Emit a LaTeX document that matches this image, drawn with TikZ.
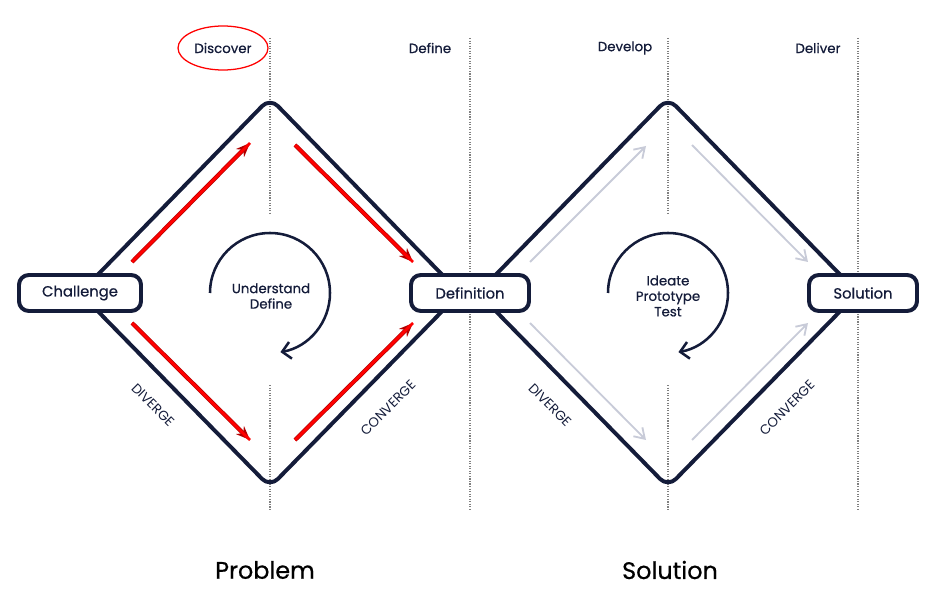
\documentclass[tikz,border=0pt]{standalone}
\usepackage{fontspec}
\setmainfont{Poppins}[BoldFont=Poppins,BoldFeatures={FakeBold=0.6}]
\usetikzlibrary{arrows.meta,positioning}
\definecolor{navy}{HTML}{141C3A}
\definecolor{lightarr}{HTML}{C8CBD8}
\tikzset{
  edge/.style={navy,line width=2.8pt,rounded corners=8pt,line join=round},
  stage/.style={draw=navy,line width=2.8pt,rounded corners=7pt,fill=white,minimum height=0.9cm,font=\fontsize{10.5}{12}\selectfont\bfseries\color{navy}},
  phase/.style={font=\fontsize{9.5}{11}\selectfont\bfseries\color{navy}},
  divider/.style={gray,densely dotted,line width=0.8pt},
  redarr/.style={-{Stealth[length=10pt,width=8pt]},red,line width=3pt,draw=red!70!black,
    postaction={draw=red,line width=2pt,-{}}},
  greyarr/.style={-{Straight Barb[length=7pt,width=9pt]},lightarr,line width=1.3pt},
  cycle/.style={-{Straight Barb[length=6pt,width=12pt]},navy,line width=1.8pt},
  side/.style={font=\fontsize{9.5}{10}\selectfont\color{navy}},
}
\begin{document}
\begin{tikzpicture}[x=0.025cm,y=-0.025cm]
\useasboundingbox (0,0) rectangle (936,610);
% dividers
\draw[divider] (270,38) -- (270,215);
\draw[divider] (270,385) -- (270,510);
\draw[divider] (470,38) -- (470,510);
\draw[divider] (668,38) -- (668,215);
\draw[divider] (668,385) -- (668,510);
\draw[divider] (858,38) -- (858,510);
% phases
\node[phase] (discover) at (223,48) {Discover};
\node[phase] (define) at (430,48) {Define};
\node[phase] (develop) at (625,48) {Develop};
\node[phase] (deliver) at (818,48) {Deliver};
\draw[red,line width=0.9pt] (discover) ellipse [x radius=45,y radius=22];
% diamonds
\draw[edge] (80,293) -- (270,98) -- (460,293) -- (270,487) -- cycle;
\draw[edge] (478,293) -- (668,98) -- (858,293) -- (668,487) -- cycle;
% stages
\node[stage,minimum width=3.05cm] (challenge) at (80,293) {Challenge};
\node[stage,minimum width=2.95cm] (definition) at (470,293) {Definition};
\node[stage,minimum width=2.7cm] (solution) at (863,293) {Solution};
% arrows, first diamond
\draw[redarr] (132,262) -- (250,143);
\draw[redarr] (295,145) -- (413,262);
\draw[redarr] (132,323) -- (250,440);
\draw[redarr] (295,440) -- (413,323);
% arrows, second diamond
\draw[greyarr] (530,262) -- (646,146);
\draw[greyarr] (692,145) -- (808,262);
\draw[greyarr] (530,323) -- (646,440);
\draw[greyarr] (692,440) -- (808,323);
% cycles
\draw[cycle] (210,293) arc[start angle=180,end angle=440,radius=60];
\draw[cycle] (608,293) arc[start angle=180,end angle=440,radius=60];
\node[phase,align=center] (understand) at (271,296) {Understand\\Define};
\node[phase,align=center] (ideate) at (668,296) {Ideate\\Prototype\\Test};
% side labels
\node[side,rotate=-45] (div1) at (153,405) {DIVERGE};
\node[side,rotate=45] (con1) at (388,408) {CONVERGE};
\node[side,rotate=-45] (div2) at (550,405) {DIVERGE};
\node[side,rotate=45] (con2) at (787,408) {CONVERGE};
% bottom
\node[font=\fontsize{17}{20}\selectfont\bfseries] (problem) at (265,570) {Problem};
\node[font=\fontsize{17}{20}\selectfont\bfseries] (solu) at (670,570) {Solution};
\end{tikzpicture}
\end{document}
